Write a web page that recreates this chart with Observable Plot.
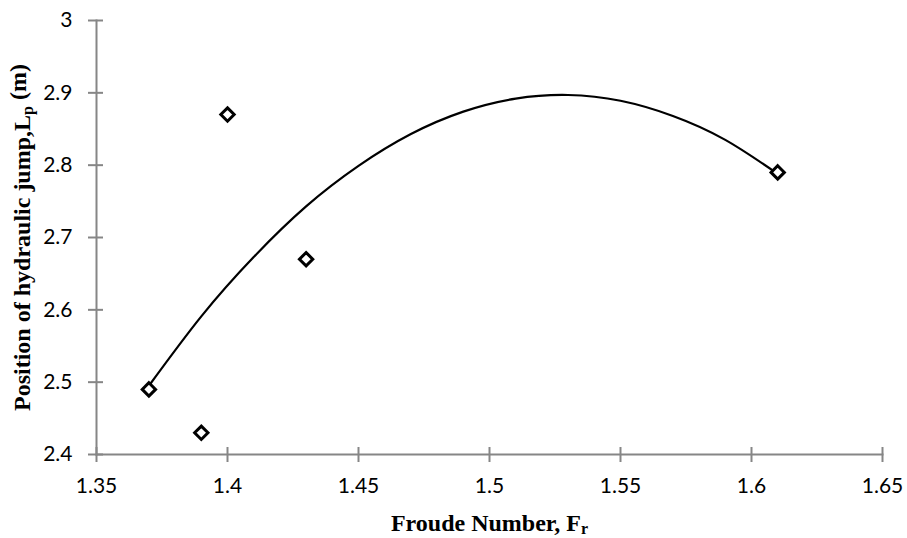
<!DOCTYPE html>
<html>
<head>
<meta charset="utf-8">
<script src="https://cdn.jsdelivr.net/npm/d3@7"></script>
<script src="https://cdn.jsdelivr.net/npm/@observablehq/plot@0.6"></script>
<style>
  html, body { margin: 0; padding: 0; background: #fff; }
</style>
</head>
<body>
<div id="chart"></div>
<script>
// Observed data (Froude number vs position of hydraulic jump)
const froude = [1.37, 1.39, 1.40, 1.43, 1.61];
const position = [2.49, 2.43, 2.87, 2.67, 2.79];

// Polynomial trendline
const trendFroude = [1.37, 1.39, 1.41, 1.43, 1.45, 1.47, 1.49, 1.51, 1.53, 1.55, 1.57, 1.59, 1.61];
const trendPosition = [2.495, 2.591, 2.673, 2.743, 2.799, 2.843, 2.874, 2.892, 2.897, 2.889, 2.868, 2.835, 2.788];

// Axis ticks
const xTicks = [1.35, 1.4, 1.45, 1.5, 1.55, 1.6, 1.65];
const yTicks = [2.4, 2.5, 2.6, 2.7, 2.8, 2.9, 3];

const points = froude.map((x, i) => ({x, y: position[i]}));
const trend = trendFroude.map((x, i) => ({x, y: trendPosition[i]}));

const axisColor = "#868686";

const chart = Plot.plot({
  width: 907,
  height: 538,
  marginLeft: 96,
  marginRight: 25,
  marginTop: 20,
  marginBottom: 84,
  x: {domain: [1.35, 1.65]},
  y: {domain: [2.4, 3]},
  style: {fontFamily: "Lato", fontSize: "21px", color: "#000", background: "#fff"},
  marks: [
    Plot.frame({anchor: "left", stroke: axisColor, strokeWidth: 2}),
    Plot.frame({anchor: "bottom", stroke: axisColor, strokeWidth: 2}),
    Plot.axisY({ticks: yTicks, tickSize: 15, dx: 7, stroke: axisColor, strokeWidth: 2, tickFormat: () => "", label: null}),
    Plot.axisX({ticks: xTicks, tickSize: 15, dy: -7, stroke: axisColor, strokeWidth: 2, tickFormat: () => "", label: null}),
    Plot.axisY({ticks: yTicks, tickSize: 0, tickPadding: 24, tickFormat: d => String(d),
      label: "Position of hydraulic jump,L", labelAnchor: "center", labelOffset: 84}),
    Plot.axisX({ticks: xTicks, tickSize: 0, tickPadding: 24, tickFormat: d => String(d),
      label: "Froude Number, F", labelAnchor: "center", labelOffset: 76}),
    Plot.line(trend, {x: "x", y: "y", curve: "natural", stroke: "#000", strokeWidth: 2.2}),
    Plot.dot(points, {x: "x", y: "y", symbol: "diamond2", r: 6, stroke: "#000", strokeWidth: 3, fill: "#fff"})
  ]
});

document.getElementById("chart").appendChild(chart);

// Style axis titles and add subscripts
function styleLabel(sel, main, sub, tail) {
  const t = d3.select(chart).select(sel);
  if (t.empty()) return;
  t.text(null)
    .attr("font-family", "'Liberation Serif', 'Times New Roman', serif")
    .attr("font-weight", "bold")
    .attr("font-size", "24px")
    .attr("fill", "#000");
  t.append("tspan").text(main);
  t.append("tspan").attr("dy", "0.2em").attr("font-size", "16px").text(sub);
  if (tail) t.append("tspan").attr("dy", "-0.3em").text(tail);
}
styleLabel('g[aria-label="y-axis label"] text', "Position of hydraulic jump,L", "p", " (m)");
styleLabel('g[aria-label="x-axis label"] text', "Froude Number, F", "r", null);
</script>
</body>
</html>
